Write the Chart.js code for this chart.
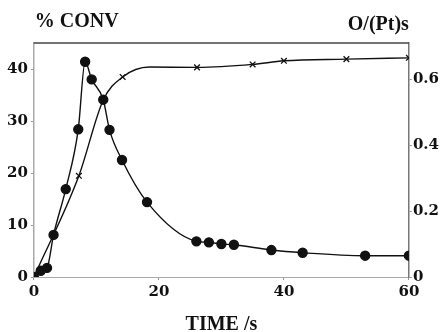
<!DOCTYPE html>
<html>
<head>
<meta charset="utf-8">
<script src="https://cdn.jsdelivr.net/npm/chart.js@4/dist/chart.umd.min.js"></script>
<style>
  html, body { margin: 0; background: #fff; }
</style>
</head>
<body>
<canvas id="chart" width="440" height="332"></canvas>
<script>
// % conversion (filled dots, left axis)
const convTime = [0, 1.1, 2.1, 3.15, 5.1, 7.1, 8.2, 9.25, 11.1, 12.1, 14.1, 18.1, 26, 28, 30, 32, 38, 43, 53, 60];
const convValue = [0, 1.2, 1.75, 8.1, 16.9, 28.4, 41.4, 38.0, 34.1, 28.3, 22.5, 14.4, 6.86, 6.66, 6.35, 6.2, 5.18, 4.66, 4.1, 4.1];

// turnover frequency O/(Pt)s (crosses, right axis)
const tofTime = [7.2, 14.2, 26.1, 35, 40, 50, 60];
const tofValue = [0.307, 0.607, 0.636, 0.645, 0.656, 0.661, 0.665];
// points the curve passes through without a marker
const tofCurveTime = [0, 11.1, 18.5];
const tofCurveValue = [0, 0.537, 0.637];

const convTicks = [0, 10, 20, 30, 40];
const tofTicks = [0, 0.2, 0.4, 0.6];
const timeTicks = [0, 20, 40, 60];

const leftTitle = '% CONV';
const rightTitle = 'O/(Pt)s';
const xTitle = 'TIME /s';

const tickFont = { family: '"DejaVu Serif"', size: 15, weight: 'bold' };
const titleFont = '"Liberation Serif"';

const pts = (xs, ys) => xs.map((x, i) => ({ x, y: ys[i] }));
const tofLine = pts(tofTime.concat(tofCurveTime), tofValue.concat(tofCurveValue)).sort((a, b) => a.x - b.x);

const cornerTitles = {
  id: 'cornerTitles',
  afterDraw(chart) {
    const { ctx, chartArea: a } = chart;
    ctx.save();
    ctx.strokeStyle = '#444';
    ctx.lineWidth = 1.5;
    ctx.beginPath();
    ctx.moveTo(a.left, a.top);
    ctx.lineTo(a.right, a.top);
    ctx.stroke();
    ctx.fillStyle = '#111';
    ctx.font = 'bold 20px ' + titleFont;
    ctx.textBaseline = 'middle';
    ctx.textAlign = 'left';
    ctx.fillText(leftTitle, a.left + 1, 22);
    ctx.textAlign = 'right';
    ctx.fillText(rightTitle, a.right, 25);
    ctx.restore();
  }
};

const fixedTicks = list => scale => { scale.ticks = list.map(v => ({ value: v })); };

new Chart(document.getElementById('chart'), {
  type: 'line',
  data: {
    datasets: [
      {
        data: pts(convTime, convValue),
        yAxisID: 'y',
        borderColor: '#111',
        borderWidth: 1.4,
        pointRadius: 4.5,
        pointBackgroundColor: '#111',
        pointBorderColor: '#111',
        cubicInterpolationMode: 'monotone'
      },
      {
        data: tofLine,
        yAxisID: 'y2',
        borderColor: '#111',
        borderWidth: 1.4,
        pointRadius: 0,
        cubicInterpolationMode: 'monotone'
      },
      {
        data: pts(tofTime, tofValue),
        yAxisID: 'y2',
        showLine: false,
        pointStyle: 'crossRot',
        pointRadius: 4,
        pointBorderWidth: 1.3,
        pointBorderColor: '#111'
      }
    ]
  },
  options: {
    responsive: false,
    animation: false,
    layout: { padding: { top: 43, left: 4, right: 0, bottom: 0 } },
    plugins: { legend: { display: false }, tooltip: { enabled: false } },
    scales: {
      x: {
        type: 'linear',
        min: 0, max: 60,
        afterBuildTicks: fixedTicks(timeTicks),
        ticks: { color: '#111', font: tickFont, padding: 3, maxRotation: 0 },
        grid: { drawOnChartArea: false, tickLength: 3, color: '#999' },
        border: { color: '#aaa', width: 1 },
        title: { display: true, text: xTitle, color: '#111', font: { family: titleFont, size: 20, weight: 'bold', lineHeight: 1 }, padding: { top: 11, bottom: -3 } }
      },
      y: {
        position: 'left',
        min: 0, max: 45,
        afterBuildTicks: fixedTicks(convTicks),
        ticks: { color: '#111', font: tickFont, padding: 3 },
        grid: { drawOnChartArea: false, tickLength: 3, color: '#999' },
        border: { color: '#aaa', width: 1.5 }
      },
      y2: {
        position: 'right',
        min: 0, max: 0.71,
        afterBuildTicks: fixedTicks(tofTicks),
        ticks: { color: '#111', font: tickFont, padding: 1, callback: v => v === 0 ? '0' : v.toFixed(1) },
        grid: { drawOnChartArea: false, tickLength: 3, color: '#999' },
        border: { color: '#777', width: 1.5 }
      }
    }
  },
  plugins: [cornerTitles]
});
</script>
</body>
</html>
